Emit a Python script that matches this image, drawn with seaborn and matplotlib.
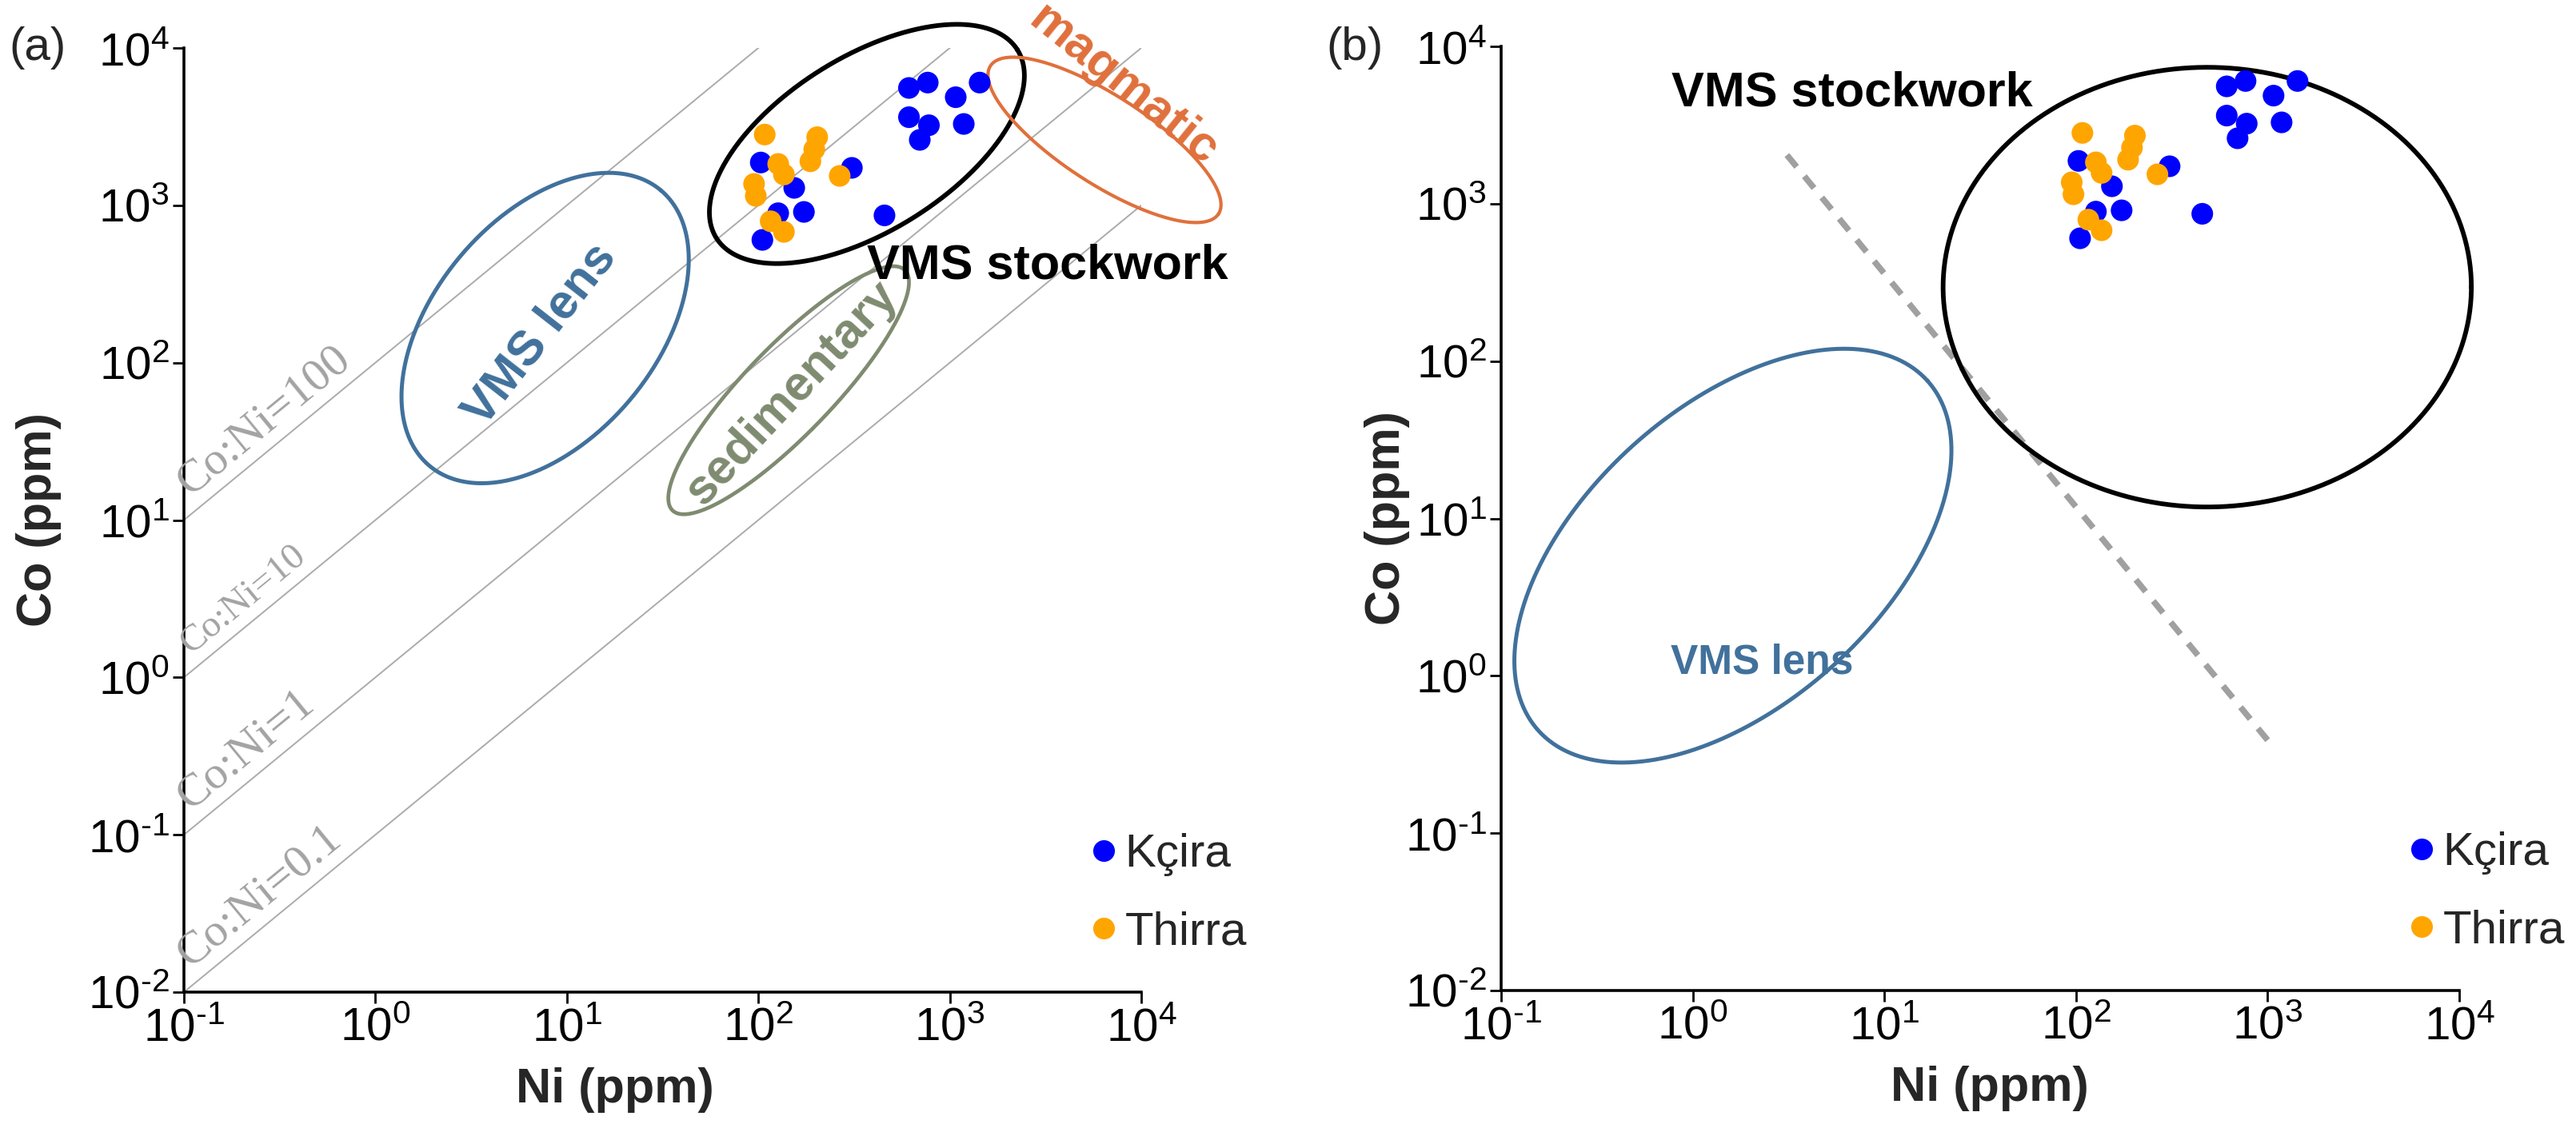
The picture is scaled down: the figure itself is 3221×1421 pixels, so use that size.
import numpy as np
import pandas as pd
import seaborn as sns
import matplotlib.pyplot as plt

# Ni and Co (ppm)
kcira_ni = [103, 154, 173, 127, 105, 308, 456, 612, 767, 1074, 1432, 612, 778, 697, 1183]
kcira_co = [1871, 1291, 908, 891, 603, 1730, 863, 5570, 6026, 4864, 6026, 3631, 3228, 2606, 3289]
thirra_ni = [108, 203, 196, 187, 127, 136, 95, 97, 266, 116, 136]
thirra_co = [2818, 2710, 2270, 1905, 1832, 1570, 1368, 1148, 1538, 792, 678]

ratios = [100, 10, 1, 0.1]
ratio_labels = ['Co:Ni=100', 'Co:Ni=10', 'Co:Ni=1', 'Co:Ni=0.1']
ratio_sizes = [42, 34, 42, 42]

xticks = [0.1, 1, 10, 100, 1000, 10000]
xtick_labels = ['$10^{\\text{-}1}$', '$10^{0}$', '$10^{1}$', '$10^{2}$', '$10^{3}$', '$10^{4}$']
yticks = [0.01, 0.1, 1, 10, 100, 1000, 10000]
ytick_labels = ['$10^{\\text{-}2}$', '$10^{\\text{-}1}$', '$10^{0}$', '$10^{1}$',
                '$10^{2}$', '$10^{3}$', '$10^{4}$']

# field outlines: centre (Ni, Co), semi axes in pixels, angle in degrees
fields_a = [
    ('VMS lens', 7.7, 166, 225, 139, 50, '#41719c', 3.6),
    ('VMS stockwork', 369, 2455, 222, 109, 32, 'black', 4.2),
    ('magmatic', 6427, 2606, 170, 55, -33, '#e0703c', 3.0),
    ('sedimentary', 144, 66.8, 209, 55, 46, '#7f8b70', 3.4),
]
fields_b = [
    ('VMS lens', 1.62, 5.8, 327, 186, 42, '#41719c', 3.6),
    ('VMS stockwork', 484, 295, 330, 275, 0, 'black', 4.2),
]
boundary_ni = [3.1, 1000]
boundary_co = [2040, 0.39]

sns.set_theme(style='white')
plt.rcParams['font.family'] = ['Liberation Sans', 'DejaVu Sans']
plt.rcParams['mathtext.fontset'] = 'custom'
plt.rcParams['mathtext.rm'] = 'Liberation Sans'
plt.rcParams['mathtext.default'] = 'regular'

df = pd.DataFrame({
    'Ni': kcira_ni + thirra_ni,
    'Co': kcira_co + thirra_co,
    'site': ['Kçira'] * len(kcira_ni) + ['Thirra'] * len(thirra_ni),
})
palette = {'Kçira': '#0000ff', 'Thirra': '#ffa500'}

W, H = 3221, 1421
fig = plt.figure(figsize=(W / 100, H / 100), dpi=100)
ax_a = fig.add_axes([230 / W, 180 / H, 1197 / W, 1181 / H])
ax_b = fig.add_axes([1877 / W, 182 / H, 1198 / W, 1181 / H])

XPX = 1197 / 5
YPX = 1181 / 6
line_ang = np.degrees(np.arctan2(YPX, XPX))


def ellipse(ni, co, a, b, ang):
    t = np.linspace(0, 2 * np.pi, 400)
    th = np.radians(ang)
    u = a * np.cos(t) * np.cos(th) - b * np.sin(t) * np.sin(th)
    v = a * np.cos(t) * np.sin(th) + b * np.sin(t) * np.cos(th)
    return ni * 10 ** (u / XPX), co * 10 ** (v / YPX)


def base(ax, ylab_x, xlab_x):
    sns.scatterplot(data=df, x='Ni', y='Co', hue='site', palette=palette,
                    s=380, linewidth=0, ax=ax, zorder=5)
    ax.set_xscale('log')
    ax.set_yscale('log')
    ax.set_xlim(0.1, 1e4)
    ax.set_ylim(0.01, 1e4)
    ax.set_xticks(xticks, xtick_labels)
    ax.set_yticks(yticks, ytick_labels)
    ax.minorticks_off()
    ax.tick_params(direction='out', length=10, width=2, labelsize=42, pad=3,
                   color='black', labelcolor='black', left=True, bottom=True)
    for s in ['top', 'right']:
        ax.spines[s].set_visible(False)
    for s in ['left', 'bottom']:
        ax.spines[s].set_linewidth(2.6)
        ax.spines[s].set_color('black')
    ax.set_xlabel('Ni (ppm)', fontsize=44, fontweight='bold')
    ax.set_ylabel('Co (ppm)', fontsize=44, fontweight='bold')
    ax.xaxis.set_label_coords(xlab_x, -0.08)
    ax.yaxis.set_label_coords(ylab_x, 0.5)

    handles, labels = ax.get_legend_handles_labels()
    leg = ax.legend(handles, labels, loc='lower left', bbox_to_anchor=(0.9365, 0.04),
                    frameon=False, fontsize=42, handletextpad=-0.05, handlelength=1.0,
                    labelspacing=0.75, borderaxespad=0, borderpad=0)
    for h in leg.legend_handles:
        if hasattr(h, 'set_markersize'):
            h.set_markersize(19.5)
        else:
            h.set_sizes([380])


def fields(ax, specs):
    for name, ni, co, a, b, ang, col, lw in specs:
        x, y = ellipse(ni, co, a, b, ang)
        ax.plot(x, y, color=col, lw=lw, clip_on=False, zorder=3)


# (a)
base(ax_a, -0.128, 0.45)
for r, lab, fs in zip(ratios, ratio_labels, ratio_sizes):
    xs = np.array([0.1, 1e4])
    ax_a.plot(xs, r * xs, color='#ababab', lw=1.4, zorder=1)
    n = np.radians(line_ang)
    ax_a.annotate(lab, xy=(0.12, r * 0.12), xytext=(-5 * np.sin(n), 5 * np.cos(n)),
                  textcoords='offset points', rotation=line_ang, rotation_mode='anchor',
                  ha='left', va='bottom', fontsize=fs, color='#a3a3a3',
                  family=['Liberation Serif'])
fields(ax_a, fields_a)
ax_a.text(7.3, 150, 'VMS lens', rotation=52, ha='center', va='center', fontsize=44,
          fontweight='bold', color='#41719c')
ax_a.text(150, 64, 'sedimentary', rotation=47, ha='center', va='center', fontsize=44,
          fontweight='bold', color='#7f8b70')
ax_a.text(3236, 412, 'VMS stockwork', ha='center', va='center', fontsize=44,
          fontweight='bold', color='black')
ax_a.text(8090, 5700, 'magmatic', rotation=-39, ha='center', va='center', fontsize=44,
          fontweight='bold', color='#e0703c')
fig.text(47 / W, 1 - 60 / H, '(a)', fontsize=42, ha='center', va='center')

# (b)
base(ax_b, -0.095, 0.51)
fields(ax_b, fields_b)
ax_b.plot(boundary_ni, boundary_co, color='#a0a0a0', lw=5.5, ls=(0, (2.5, 2)), zorder=2)
ax_b.text(6.8, 5000, 'VMS stockwork', ha='center', va='center', fontsize=44,
          fontweight='bold', color='black')
ax_b.text(2.3, 1.21, 'VMS lens', ha='center', va='center', fontsize=37,
          fontweight='bold', color='#41719c')
fig.text(1694 / W, 1 - 60 / H, '(b)', fontsize=42, ha='center', va='center')

fig.savefig('out.png', dpi=100)
